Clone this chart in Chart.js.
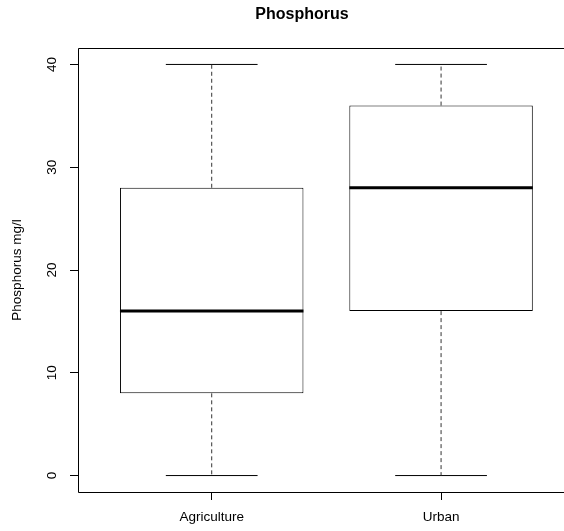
<!DOCTYPE html>
<html>
<head>
<meta charset="utf-8">
<title>Phosphorus</title>
<script src="https://cdn.jsdelivr.net/npm/chart.js@4/dist/chart.umd.min.js"></script>
<style>
    html, body {
        margin: 0;
        padding: 0;
        background: #ffffff;
        overflow: hidden;
    }
    #wrap {
        width: 564px;
        height: 531px;
    }
</style>
</head>
<body>
<div id="wrap">
    <canvas id="box-chart" width="564" height="531"></canvas>
</div>
<script>
// Boxplot data
const categories = ['Agriculture', 'Urban'];
const positions = [1, 2];
const minValues = [0, 0];
const q1Values = [8, 16];
const medianValues = [16, 28];
const q3Values = [28, 36];
const maxValues = [40, 40];
const yTickValues = [0, 10, 20, 30, 40];

const FONT = "'Liberation Sans', Arial, sans-serif";

// Boxes as floating bars
const boxData = positions.map((p, i) => ({ x: p, y: [q1Values[i], q3Values[i]] }));

// Median segments, broken with null points
const medianData = [];
positions.forEach((p, i) => {
    medianData.push({ x: p - 0.4, y: medianValues[i] });
    medianData.push({ x: p + 0.4, y: medianValues[i] });
    medianData.push({ x: p, y: null });
});

// Dashed whiskers
const whiskerData = [];
positions.forEach((p, i) => {
    whiskerData.push({ x: p, y: q3Values[i] });
    whiskerData.push({ x: p, y: maxValues[i] });
    whiskerData.push({ x: p, y: null });
    whiskerData.push({ x: p, y: q1Values[i] });
    whiskerData.push({ x: p, y: minValues[i] });
    whiskerData.push({ x: p, y: null });
});

// Whisker caps
const capData = [];
positions.forEach((p, i) => {
    capData.push({ x: p - 0.2, y: maxValues[i] });
    capData.push({ x: p + 0.2, y: maxValues[i] });
    capData.push({ x: p, y: null });
    capData.push({ x: p - 0.2, y: minValues[i] });
    capData.push({ x: p + 0.2, y: minValues[i] });
    capData.push({ x: p, y: null });
});

// Frame (right side falls outside the picture), main title, rotated y tick labels
const decorations = {
    id: 'decorations',
    afterDraw(chart) {
        const ctx = chart.ctx;
        const area = chart.chartArea;
        const yScale = chart.scales.y;
        const l = Math.round(area.left) + 0.5;
        const t = Math.round(area.top) + 0.5;
        const b = Math.round(area.bottom) + 0.5;

        ctx.save();
        ctx.strokeStyle = '#000';
        ctx.lineWidth = 1;
        ctx.beginPath();
        ctx.moveTo(chart.width, t);
        ctx.lineTo(l, t);
        ctx.lineTo(l, b);
        ctx.lineTo(chart.width, b);
        ctx.stroke();

        ctx.fillStyle = '#000';
        ctx.font = 'bold 16px ' + FONT;
        ctx.textAlign = 'center';
        ctx.textBaseline = 'middle';
        ctx.fillText('Phosphorus', 302, 15);

        ctx.font = '13.5px ' + FONT;
        yTickValues.forEach(v => {
            const py = yScale.getPixelForValue(v);
            ctx.save();
            ctx.translate(52, py);
            ctx.rotate(-Math.PI / 2);
            ctx.fillText(String(v), 0, 0);
            ctx.restore();
        });
        ctx.restore();
    }
};

const chart = new Chart(document.getElementById('box-chart'), {
    type: 'bar',
    data: {
        datasets: [
            {
                type: 'line',
                data: medianData,
                borderColor: '#000',
                borderWidth: 3,
                pointRadius: 0,
                spanGaps: false,
                order: 0
            },
            {
                type: 'line',
                data: whiskerData,
                borderColor: '#333',
                borderWidth: 1,
                borderDash: [4, 3],
                pointRadius: 0,
                spanGaps: false,
                order: 1
            },
            {
                type: 'line',
                data: capData,
                borderColor: '#000',
                borderWidth: 1,
                pointRadius: 0,
                spanGaps: false,
                order: 1
            },
            {
                type: 'bar',
                data: boxData,
                backgroundColor: '#ffffff',
                borderColor: '#000',
                borderWidth: 1,
                borderSkipped: false,
                categoryPercentage: 1,
                barPercentage: 0.8,
                order: 2
            }
        ]
    },
    options: {
        responsive: false,
        animation: false,
        layout: {
            padding: { top: 48, right: 0, left: 0, bottom: 0 }
        },
        plugins: {
            legend: { display: false },
            tooltip: { enabled: false },
            title: { display: false }
        },
        scales: {
            x: {
                type: 'linear',
                offset: false,
                min: 0.417,
                max: 2.536,
                afterBuildTicks: scale => {
                    scale.ticks = positions.map(p => ({ value: p }));
                },
                afterFit: scale => {
                    scale.height = 39;
                },
                border: { display: false },
                grid: {
                    offset: false,
                    drawOnChartArea: false,
                    drawTicks: true,
                    tickLength: 8,
                    color: '#000'
                },
                ticks: {
                    color: '#000',
                    padding: 9,
                    maxRotation: 0,
                    autoSkip: false,
                    font: { family: FONT, size: 13.5 },
                    callback: value => categories[positions.indexOf(value)]
                }
            },
            y: {
                type: 'linear',
                min: -1.6,
                max: 41.6,
                afterBuildTicks: scale => {
                    scale.ticks = yTickValues.map(v => ({ value: v }));
                },
                afterFit: scale => {
                    scale.width = 78;
                },
                border: { display: false },
                grid: {
                    drawOnChartArea: false,
                    drawTicks: true,
                    tickLength: 8,
                    color: '#000'
                },
                ticks: { display: false },
                title: {
                    display: true,
                    text: 'Phosphorus mg/l',
                    color: '#000',
                    font: { family: FONT, size: 13.5 },
                    padding: { top: 9, bottom: 0 }
                }
            }
        }
    },
    plugins: [decorations]
});
</script>
</body>
</html>
